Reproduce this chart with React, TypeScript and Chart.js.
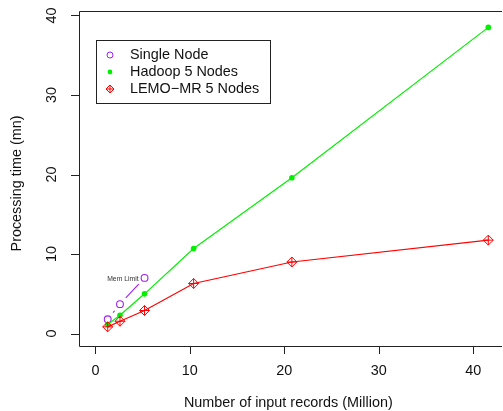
import React, { useEffect, useRef } from "react";
import { Chart, registerables } from "chart.js";

Chart.register(...registerables);

const records = [1.3, 2.6, 5.2, 10.4, 20.8, 41.6];
const singleNodeRecords = [1.3, 2.6, 5.2];
const singleNode = [1.8, 3.7, 7.0];
const hadoop = [1.15, 2.3, 5.0, 10.7, 19.6, 38.5];
const lemo = [0.85, 1.55, 2.9, 6.3, 9.0, 11.75];
const xTicks = [0, 10, 20, 30, 40];
const yTicks = [0, 10, 20, 30, 40];
const legendLabels = ["Single Node", "Hadoop 5 Nodes", "LEMO\u2212MR 5 Nodes"];
const annotationText = "Mem Limit";
const xTitle = "Number of input records (Million)";
const yTitle = "Processing time (mn)";

const PURPLE = "#A020F0";
const GREEN = "#00F000";
const RED = "#FF0000";
const FONT = "Liberation Sans, Arial, Helvetica, sans-serif";
const FS = 14.4;

function strokeDiamondPlus(ctx: CanvasRenderingContext2D, x: number, y: number, s: number) {
  ctx.beginPath();
  ctx.moveTo(x, y - s);
  ctx.lineTo(x + s, y);
  ctx.lineTo(x, y + s);
  ctx.lineTo(x - s, y);
  ctx.closePath();
  ctx.moveTo(x, y - s);
  ctx.lineTo(x, y + s);
  ctx.moveTo(x - s, y);
  ctx.lineTo(x + s, y);
  ctx.stroke();
}

const rPlotPlugin = {
  id: "rPlot",
  afterDatasetsDraw(chart: any) {
    const ctx = chart.ctx;
    const ca = chart.chartArea;
    ctx.save();
    // crosses inside LEMO diamonds
    const lemoMeta = chart.getDatasetMeta(0);
    ctx.strokeStyle = RED;
    ctx.lineWidth = 1;
    lemoMeta.data.forEach((p: any) => {
      ctx.beginPath();
      ctx.moveTo(p.x, p.y - 5);
      ctx.lineTo(p.x, p.y + 5);
      ctx.moveTo(p.x - 5, p.y);
      ctx.lineTo(p.x + 5, p.y);
      ctx.stroke();
    });
    const meta = chart.getDatasetMeta(2);
    const pts = meta.data;
    const gap = 8.5;
    ctx.beginPath();
    ctx.rect(ca.left, ca.top, ca.right - ca.left, ca.bottom - ca.top);
    ctx.clip();
    ctx.strokeStyle = PURPLE;
    ctx.lineWidth = 1.1;
    for (let i = 0; i < pts.length - 1; i++) {
      const a = pts[i];
      const b = pts[i + 1];
      const dx = b.x - a.x;
      const dy = b.y - a.y;
      const d = Math.sqrt(dx * dx + dy * dy);
      if (d <= gap * 2) continue;
      const ux = dx / d;
      const uy = dy / d;
      ctx.beginPath();
      ctx.moveTo(a.x + ux * gap, a.y + uy * gap);
      ctx.lineTo(b.x - ux * gap, b.y - uy * gap);
      ctx.stroke();
    }
    const last = pts[pts.length - 1];
    if (last) {
      ctx.fillStyle = "#333";
      ctx.font = `6.8px ${FONT}`;
      ctx.textAlign = "right";
      ctx.textBaseline = "middle";
      ctx.fillText(annotationText, last.x - 6, last.y + 1);
    }
    ctx.restore();
  },
  afterDraw(chart: any) {
    const ctx = chart.ctx;
    const ca = chart.chartArea;
    const xs = chart.scales.x;
    const ys = chart.scales.y;
    ctx.save();
    ctx.strokeStyle = "#222";
    ctx.lineWidth = 1;
    ctx.beginPath();
    ctx.moveTo(ca.right + 5, Math.round(ca.top) + 0.5);
    ctx.lineTo(Math.round(ca.left) + 0.5, Math.round(ca.top) + 0.5);
    ctx.lineTo(Math.round(ca.left) + 0.5, Math.round(ca.bottom) + 0.5);
    ctx.lineTo(ca.right + 5, Math.round(ca.bottom) + 0.5);
    ctx.stroke();
    ctx.fillStyle = "#111";
    ctx.font = `${FS}px ${FONT}`;
    yTicks.forEach((v) => {
      const y = Math.round(ys.getPixelForValue(v)) + 0.5;
      ctx.beginPath();
      ctx.moveTo(ca.left - 8, y);
      ctx.lineTo(ca.left, y);
      ctx.stroke();
      ctx.save();
      ctx.translate(ca.left - 27, ys.getPixelForValue(v));
      ctx.rotate(-Math.PI / 2);
      ctx.textAlign = "center";
      ctx.textBaseline = "middle";
      ctx.fillText(String(v), 0, 0);
      ctx.restore();
    });
    xTicks.forEach((v) => {
      const x = Math.round(xs.getPixelForValue(v)) + 0.5;
      ctx.beginPath();
      ctx.moveTo(x, ca.bottom);
      ctx.lineTo(x, ca.bottom + 8);
      ctx.stroke();
      ctx.textAlign = "center";
      ctx.textBaseline = "middle";
      ctx.fillText(String(v), xs.getPixelForValue(v), ca.bottom + 25);
    });
    ctx.textAlign = "center";
    ctx.textBaseline = "middle";
    ctx.fillText(xTitle, (xs.getPixelForValue(0) + xs.getPixelForValue(40)) / 2 + 4, ca.bottom + 57);
    ctx.save();
    ctx.translate(17, (ca.top + ca.bottom) / 2 + 5);
    ctx.rotate(-Math.PI / 2);
    ctx.fillText(yTitle, 0, 0);
    ctx.restore();
    // legend
    const lx = ca.left + 17;
    const ly = ca.top + 29;
    ctx.fillStyle = "#fff";
    ctx.fillRect(lx, ly, 174, 63);
    ctx.strokeStyle = "#222";
    ctx.strokeRect(Math.round(lx) + 0.5, Math.round(ly) + 0.5, 174, 63);
    const rowY = [ly + 15, ly + 32, ly + 49];
    const symX = lx + 14;
    ctx.strokeStyle = PURPLE;
    ctx.beginPath();
    ctx.arc(symX, rowY[0], 3, 0, Math.PI * 2);
    ctx.stroke();
    ctx.fillStyle = GREEN;
    ctx.beginPath();
    ctx.arc(symX, rowY[1], 2.4, 0, Math.PI * 2);
    ctx.fill();
    ctx.strokeStyle = RED;
    ctx.lineWidth = 1;
    strokeDiamondPlus(ctx, symX, rowY[2], 4);
    ctx.fillStyle = "#111";
    ctx.font = `${FS}px ${FONT}`;
    ctx.textAlign = "left";
    ctx.textBaseline = "middle";
    legendLabels.forEach((t, i) => ctx.fillText(t, lx + 34, rowY[i] + 0.5));
    ctx.restore();
  },
};

export default function App() {
  const ref = useRef<HTMLCanvasElement | null>(null);
  useEffect(() => {
    document.body.style.margin = "0";
    document.body.style.overflow = "hidden";
    const canvas = ref.current!;
    const chart = new Chart(canvas, {
      type: "scatter",
      data: {
        datasets: [
          {
            label: legendLabels[2],
            data: records.map((x, i) => ({ x, y: lemo[i] })),
            showLine: true,
            borderColor: RED,
            backgroundColor: RED,
            borderWidth: 1.2,
            pointStyle: "rectRot",
            pointRadius: 5,
            pointBorderColor: RED,
            pointBackgroundColor: "rgba(255,255,255,0)",
            pointBorderWidth: 1,
            order: 0,
          },
          {
            label: legendLabels[1],
            data: records.map((x, i) => ({ x, y: hadoop[i] })),
            showLine: true,
            borderColor: GREEN,
            backgroundColor: GREEN,
            borderWidth: 1.2,
            pointStyle: "circle",
            pointRadius: 2.8,
            pointBorderWidth: 0,
            pointBackgroundColor: GREEN,
            order: 1,
          },
          {
            label: legendLabels[0],
            data: singleNodeRecords.map((x, i) => ({ x, y: singleNode[i] })),
            showLine: false,
            borderColor: PURPLE,
            pointBorderColor: PURPLE,
            pointBackgroundColor: "rgba(0,0,0,0)",
            pointRadius: 3.4,
            pointBorderWidth: 1.1,
            order: 2,
          },
        ],
      },
      options: {
        responsive: false,
        animation: false,
        devicePixelRatio: 1,
        layout: { padding: { left: 79, top: 11, right: 0, bottom: 65 } },
        plugins: { legend: { display: false }, tooltip: { enabled: false }, title: { display: false } },
        scales: {
          x: { type: "linear", min: -1.74, max: 42.52, display: false },
          y: { type: "linear", min: -1.56, max: 40.56, display: false },
        },
      },
      plugins: [rPlotPlugin],
    });
    return () => chart.destroy();
  }, []);
  return (
    <div style={{ width: 503, height: 411, background: "#fff" }}>
      <canvas ref={ref} width={503} height={411} style={{ display: "block" }} />
    </div>
  );
}
